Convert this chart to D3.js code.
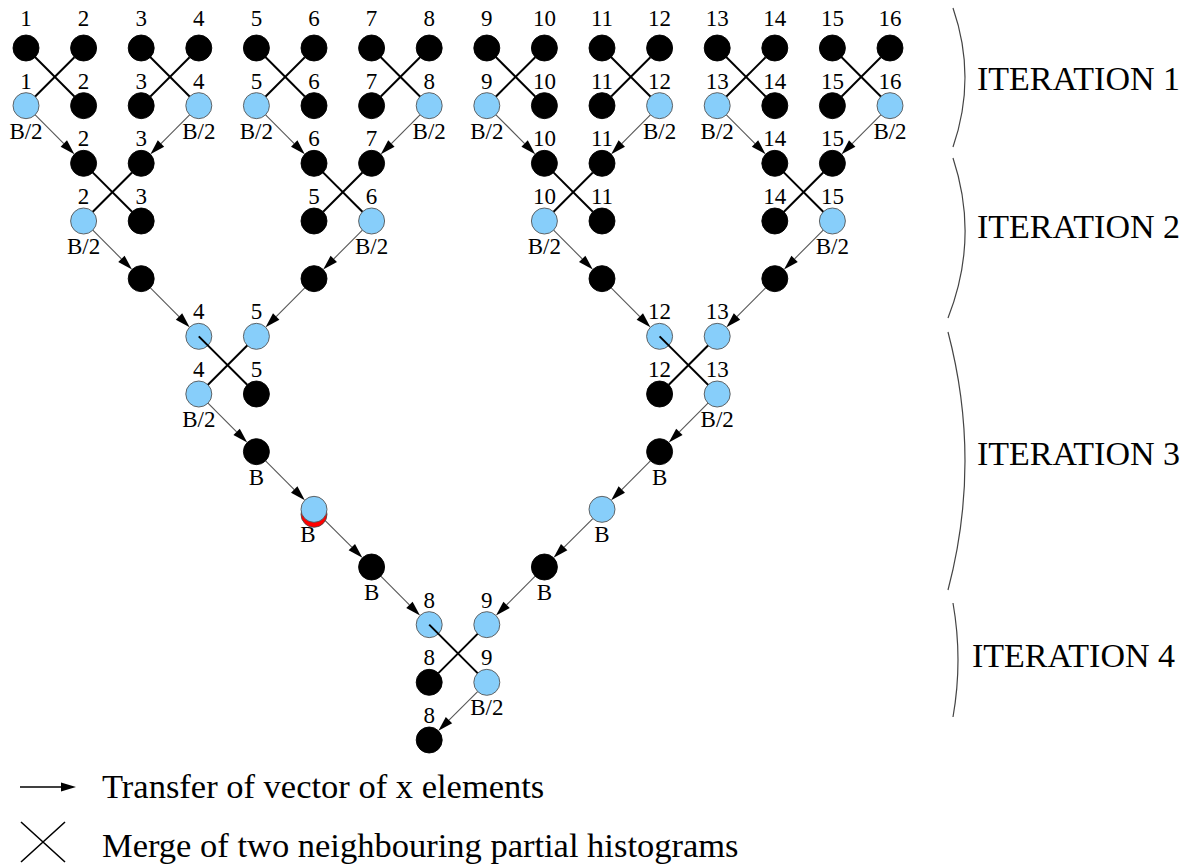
<!DOCTYPE html>
<html><head>
<meta charset="utf-8">
<title>Parallel histogram merge</title>
<script src="https://d3js.org/d3.v7.min.js"></script>
<style>
  body { margin: 0; background: #fff; }
  svg text { font-family: "Liberation Serif", "DejaVu Serif", serif; fill: #000; }
</style>
</head>
<body>
<svg id="chart" width="1195" height="864"></svg>
<script>

// ---- data ----
// nodes: [column, row, kind, label above, label below]
// kind: "b" = black, "c" = light blue, "s" = blue with red underneath
const iter1Nodes = [
  [0,0,"b","1",""], [1,0,"b","2",""], [2,0,"b","3",""], [3,0,"b","4",""],
  [4,0,"b","5",""], [5,0,"b","6",""], [6,0,"b","7",""], [7,0,"b","8",""],
  [8,0,"b","9",""], [9,0,"b","10",""], [10,0,"b","11",""], [11,0,"b","12",""],
  [12,0,"b","13",""], [13,0,"b","14",""], [14,0,"b","15",""], [15,0,"b","16",""],
  [0,1,"c","1","B/2"], [1,1,"b","2",""], [2,1,"b","3",""], [3,1,"c","4","B/2"],
  [4,1,"c","5","B/2"], [5,1,"b","6",""], [6,1,"b","7",""], [7,1,"c","8","B/2"],
  [8,1,"c","9","B/2"], [9,1,"b","10",""], [10,1,"b","11",""], [11,1,"c","12","B/2"],
  [12,1,"c","13","B/2"], [13,1,"b","14",""], [14,1,"b","15",""], [15,1,"c","16","B/2"]
];
const iter2Nodes = [
  [1,2,"b","2",""], [2,2,"b","3",""], [5,2,"b","6",""], [6,2,"b","7",""],
  [9,2,"b","10",""], [10,2,"b","11",""], [13,2,"b","14",""], [14,2,"b","15",""],
  [1,3,"c","2","B/2"], [2,3,"b","3",""], [5,3,"b","5",""], [6,3,"c","6","B/2"],
  [9,3,"c","10","B/2"], [10,3,"b","11",""], [13,3,"b","14",""], [14,3,"c","15","B/2"],
  [2,4,"b","",""], [5,4,"b","",""], [10,4,"b","",""], [13,4,"b","",""]
];
const iter3Nodes = [
  [3,5,"c","4",""], [4,5,"c","5",""], [11,5,"c","12",""], [12,5,"c","13",""],
  [3,6,"c","4","B/2"], [4,6,"b","5",""], [11,6,"b","12",""], [12,6,"c","13","B/2"],
  [4,7,"b","","B"], [11,7,"b","","B"],
  [5,8,"s","","B"], [10,8,"c","","B"],
  [6,9,"b","","B"], [9,9,"b","","B"]
];
const iter4Nodes = [
  [7,10,"c","8",""], [8,10,"c","9",""],
  [7,11,"b","8",""], [8,11,"c","9","B/2"],
  [7,12,"b","8",""]
];

// transfers: [from col, from row, to col, to row]
const transfers = [
  [0,1,1,2], [3,1,2,2], [4,1,5,2], [7,1,6,2], [8,1,9,2], [11,1,10,2], [12,1,13,2], [15,1,14,2],
  [1,3,2,4], [6,3,5,4], [9,3,10,4], [14,3,13,4],
  [2,4,3,5], [5,4,4,5], [10,4,11,5], [13,4,12,5],
  [3,6,4,7], [4,7,5,8], [5,8,6,9], [6,9,7,10],
  [12,6,11,7], [11,7,10,8], [10,8,9,9], [9,9,8,10],
  [8,11,7,12]
];

// merges: [left col, right col, top row]
const merges = [
  [0,1,0], [2,3,0], [4,5,0], [6,7,0], [8,9,0], [10,11,0], [12,13,0], [14,15,0],
  [1,2,2], [5,6,2], [9,10,2], [13,14,2],
  [3,4,5], [11,12,5],
  [7,8,10]
];

const iterationNames = ["ITERATION 1", "ITERATION 2", "ITERATION 3", "ITERATION 4"];
const legendLabels = ["Transfer of vector of x elements", "Merge of two neighbouring partial histograms"];

// ---- layout ----
const R = 13;
const blue = "#87cefa";
const svg = d3.select("#chart");

const x = d3.scaleLinear().domain([0, 15]).range([26, 890]);
const y = d3.scaleLinear().domain([0, 12]).range([48, 740]);

const nodes = [].concat(iter1Nodes, iter2Nodes, iter3Nodes, iter4Nodes)
  .map(d => ({ c: d[0], r: d[1], kind: d[2], top: d[3], sub: d[4] }));

// point on the edge of circle a, towards b
function edge(ax, ay, bx, by, off) {
  let dx = bx - ax, dy = by - ay, len = Math.hypot(dx, dy);
  return [ax + dx / len * off, ay + dy / len * off];
}

// transfer arrows
let arrowLayer = svg.append("g");
transfers.forEach(t => {
  let x1 = x(t[0]), y1 = y(t[1]), x2 = x(t[2]), y2 = y(t[3]);
  let s = edge(x1, y1, x2, y2, R);
  let tip = edge(x2, y2, x1, y1, R);
  let base = edge(tip[0], tip[1], x1, y1, 15);
  let ux = (tip[0] - base[0]) / 15, uy = (tip[1] - base[1]) / 15;
  arrowLayer.append("line")
    .attr("x1", s[0]).attr("y1", s[1])
    .attr("x2", base[0]).attr("y2", base[1])
    .attr("stroke", "#555").attr("stroke-width", 1.1);
  arrowLayer.append("path")
    .attr("d", `M${tip[0]},${tip[1]} L${base[0] - uy * 4.5},${base[1] + ux * 4.5} L${base[0] + uy * 4.5},${base[1] - ux * 4.5} Z`)
    .attr("fill", "#000");
});

// nodes
let nodeLayer = svg.append("g");
nodeLayer.selectAll("circle.red").data(nodes.filter(d => d.kind === "s"))
  .join("circle")
  .attr("class", "red")
  .attr("cx", d => x(d.c)).attr("cy", d => y(d.r) + 5).attr("r", R)
  .attr("fill", "#ff0000").attr("stroke", "#444").attr("stroke-width", 0.8);

nodeLayer.selectAll("circle.node").data(nodes)
  .join("circle")
  .attr("class", "node")
  .attr("cx", d => x(d.c)).attr("cy", d => y(d.r)).attr("r", R)
  .attr("fill", d => d.kind === "b" ? "#000" : blue)
  .attr("stroke", d => d.kind === "b" ? "#000" : "#555")
  .attr("stroke-width", 0.9);

// merge crosses, drawn over the circles (ends clipped at circle edges)
let crossLayer = svg.append("g").attr("stroke", "#000").attr("stroke-width", 2);
merges.forEach(m => {
  let xl = x(m[0]), xr = x(m[1]), yt = y(m[2]), yb = y(m[2] + 1);
  let e1 = edge(xr, yb, xl, yt, R);
  crossLayer.append("line")
    .attr("x1", xl).attr("y1", yt).attr("x2", e1[0]).attr("y2", e1[1]);
  let a = edge(xr, yt, xl, yb, R), b = edge(xl, yb, xr, yt, R);
  crossLayer.append("line")
    .attr("x1", a[0]).attr("y1", a[1]).attr("x2", b[0]).attr("y2", b[1]);
});

// labels
let labelLayer = svg.append("g").attr("font-size", 23).attr("text-anchor", "middle");
labelLayer.selectAll("text.top").data(nodes.filter(d => d.top !== ""))
  .join("text")
  .attr("class", "top")
  .attr("x", d => x(d.c))
  .attr("y", d => y(d.r) - (d.r === 0 ? 22 : 17))
  .text(d => d.top);
labelLayer.selectAll("text.sub").data(nodes.filter(d => d.sub !== ""))
  .join("text")
  .attr("class", "sub")
  .attr("x", d => x(d.c) + (d.kind === "s" ? -6 : 0))
  .attr("y", d => y(d.r) + 33)
  .text(d => d.sub);

// iteration brackets
const brackets = [
  { top: 8, bottom: 147, x0: 953, x1: 953, bulge: 965, tx: 977, ty: 90 },
  { top: 158, bottom: 318, x0: 953, x1: 948, bulge: 965, tx: 977, ty: 238 },
  { top: 332, bottom: 590, x0: 948, x1: 948, bulge: 965, tx: 977, ty: 465 },
  { top: 603, bottom: 717, x0: 953, x1: 953, bulge: 958, tx: 972, ty: 667 }
];
let brLayer = svg.append("g");
iterationNames.forEach((name, i) => {
  let b = brackets[i];
  let mid = (b.top + b.bottom) / 2;
  let cx = 2 * b.bulge - (b.x0 + b.x1) / 2;
  brLayer.append("path")
    .attr("d", `M${b.x0},${b.top} Q${cx},${mid} ${b.x1},${b.bottom}`)
    .attr("fill", "none").attr("stroke", "#444").attr("stroke-width", 1.2);
  brLayer.append("text")
    .attr("x", b.tx).attr("y", b.ty)
    .attr("font-size", 34)
    .text(name);
});

// legend
let legend = svg.append("g");
legend.append("line")
  .attr("x1", 20).attr("y1", 787).attr("x2", 62).attr("y2", 787)
  .attr("stroke", "#000").attr("stroke-width", 1.3);
legend.append("path")
  .attr("d", "M76,787 L61,782.5 L61,791.5 Z").attr("fill", "#000");
legend.append("path")
  .attr("d", "M21,822 L65,862 M65,822 L21,862")
  .attr("stroke", "#000").attr("stroke-width", 1.6).attr("fill", "none");
legend.selectAll("text").data(legendLabels)
  .join("text")
  .attr("x", 102)
  .attr("y", (d, i) => 798 + i * 59)
  .attr("font-size", 34.5)
  .text(d => d);

</script>
</body>
</html>
